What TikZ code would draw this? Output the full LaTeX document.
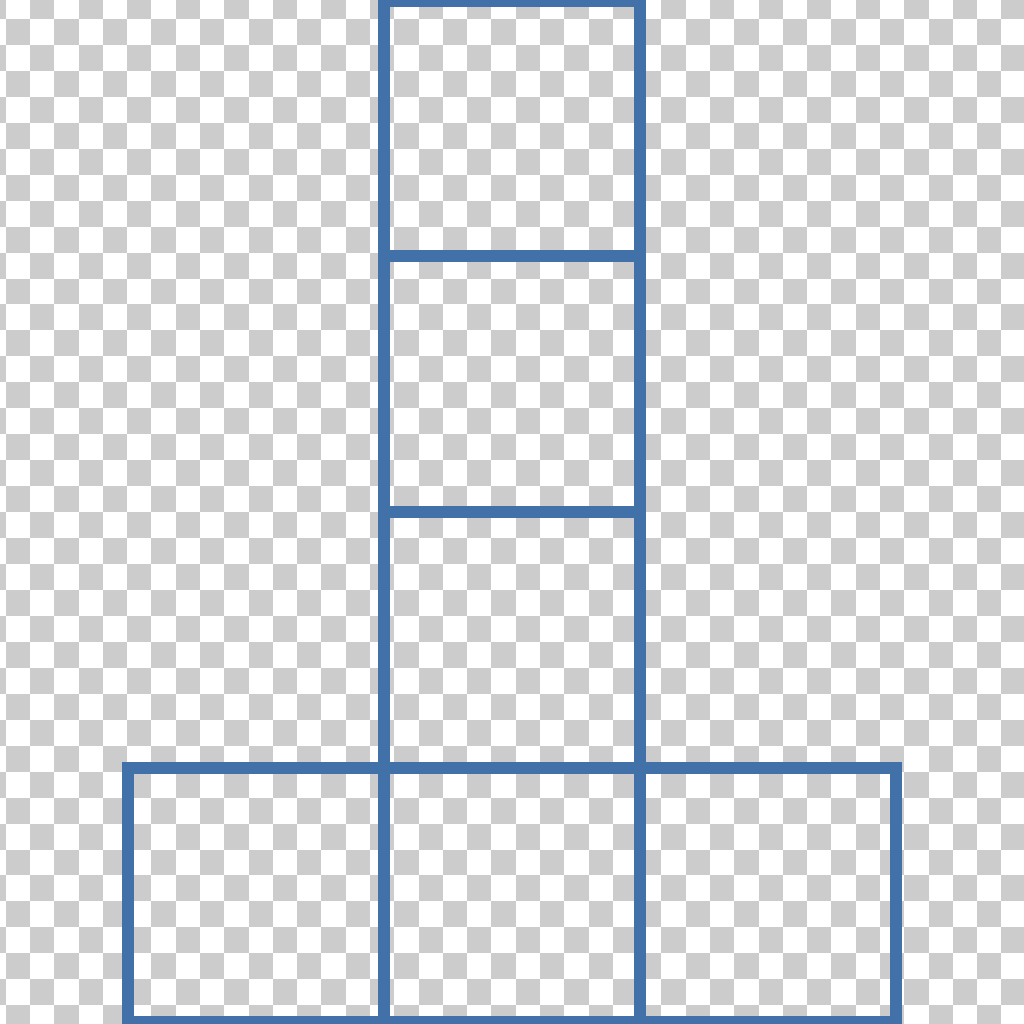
\documentclass[tikz,border=0pt]{standalone}
\usepackage{tikz}

\definecolor{tileblue}{RGB}{66,112,168}
\definecolor{checkgray}{RGB}{204,204,204}

\tikzset{
  tile/.style={line width=3.2pt, draw=tileblue},
}

\begin{document}
\begin{tikzpicture}[x=2.56cm, y=2.56cm]
      \useasboundingbox (0,0) rectangle (4,4);
      \fill[white] (0,0) rectangle (4,4);

      % checkerboard background
      \begin{scope}[shift={(0,4)}, x=0.01cm, y=-0.01cm]
        \foreach \i in {0,...,39} {
          \pgfmathtruncatemacro\s{mod(\i,2)}
          \foreach \j in {0,2,...,42}
            \fill[checkgray] ({-18.6+(\j+\s)*24.3},{-7+\i*25.97}) rectangle +(24.3,25.97);
        }
      \end{scope}

      % column
      \draw[tile] (1.5,3) rectangle (2.5,3.995);
      \draw[tile] (1.5,2) rectangle (2.5,3);
      \draw[tile] (1.5,1) rectangle (2.5,2);

      % bottom row
      \draw[tile] (0.5,0.008) rectangle (1.5,1);
      \draw[tile] (1.5,0.008) rectangle (2.5,1);
      \draw[tile] (2.5,0.008) rectangle (3.5,1);
    \end{tikzpicture}
\end{document}
